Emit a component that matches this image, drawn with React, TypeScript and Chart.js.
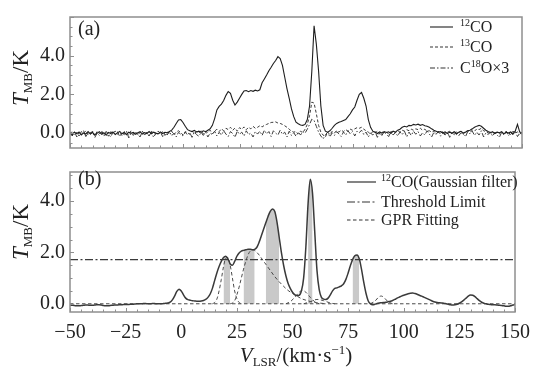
import React, { useEffect, useRef } from 'react';
import { Chart, registerables } from 'chart.js';

Chart.register(...registerables);

// ---------- DATA ----------
// Velocity grid: starts at -50 km/s, one channel per km/s, up to 150 km/s
const V_START = -50;
const V_STEP = 1;

// Panel (a): 12CO spectrum (K)
const CO12_A = [
  0.02, -0.08, 0.05, -0.03, 0.06, -0.1, 0.01, -0.05, 0.08, -0.04,
  0.03, -0.09, 0.0, 0.07, -0.06, 0.02, -0.11, 0.04, -0.02, 0.06,
  -0.07, 0.01, 0.09, -0.04, 0.03, -0.08, 0.05, -0.01, 0.04, -0.06,
  0.02, 0.07, -0.05, 0.03, -0.02, 0.08, -0.03, 0.05, 0.0, -0.04,
  0.06, -0.02, 0.04, 0.01, 0.08, 0.15, 0.3, 0.5, 0.68, 0.7,
  0.55, 0.35, 0.18, 0.12, 0.08, 0.14, 0.06, 0.1, 0.04, 0.12,
  0.07, 0.15, 0.22, 0.4, 0.75, 1.2, 1.38, 1.5, 1.68, 1.95,
  2.15, 2.05, 1.7, 1.45, 1.6, 1.8, 2.0, 2.18, 2.2, 2.14,
  2.2, 2.16, 2.22, 2.18, 2.24, 2.6, 2.8, 3.0, 3.22, 3.4,
  3.6, 3.75, 3.95, 3.85, 3.5, 2.9, 2.3, 1.8, 1.25, 0.85,
  0.56, 0.48, 0.42, 0.4, 0.45, 0.7, 1.4, 3.2, 5.55, 4.6,
  3.2, 1.4, 0.4, 0.1, 0.05, 0.12, 0.25, 0.4, 0.5, 0.56,
  0.6, 0.65, 0.7, 0.85, 1.0, 1.2, 1.35, 1.7, 2.0, 2.1,
  1.8, 1.4, 0.7, 0.3, 0.1, 0.04, -0.02, 0.06, 0.0, 0.08,
  0.03, 0.07, -0.02, 0.1, 0.05, 0.15, 0.2, 0.3, 0.35, 0.32,
  0.4, 0.38, 0.45, 0.42, 0.46, 0.4, 0.44, 0.38, 0.35, 0.3,
  0.22, 0.15, 0.1, 0.05, 0.08, 0.02, 0.06, -0.03, 0.05, 0.0,
  0.07, -0.02, 0.04, 0.09, 0.01, 0.05, 0.12, 0.15, 0.22, 0.3,
  0.36, 0.4, 0.35, 0.25, 0.15, 0.08, 0.03, 0.07, -0.02, 0.05,
  0.02, 0.08, -0.04, 0.05, 0.0, 0.06, -0.03, 0.1, 0.45, 0.05,
  0.02,
];

// Panel (a): 13CO spectrum (K)
const CO13_A = [
  -0.05, 0.1, -0.12, 0.04, -0.15, 0.08, -0.02, 0.12, -0.1, 0.03,
  0.06, -0.14, 0.09, -0.03, 0.11, -0.08, 0.02, -0.16, 0.07, 0.0,
  0.1, -0.06, 0.04, -0.13, 0.08, 0.01, -0.1, 0.12, -0.04, 0.06,
  -0.11, 0.05, 0.1, -0.07, 0.03, -0.15, 0.09, 0.02, -0.06, 0.11,
  -0.03, 0.07, -0.12, 0.05, 0.0, 0.1, -0.08, 0.06, 0.12, 0.03,
  -0.1, 0.08, 0.02, -0.06, 0.11, -0.02, 0.07, 0.0, 0.13, -0.05,
  0.09, 0.03, 0.15, -0.04, 0.1, 0.2, 0.08, 0.22, 0.12, 0.25,
  0.18, 0.3, 0.15, 0.26, 0.1, 0.28, 0.2, 0.32, 0.18, 0.3,
  0.22, 0.35, 0.25, 0.3, 0.38, 0.32, 0.4, 0.45, 0.5, 0.55,
  0.56, 0.58, 0.52, 0.5, 0.45, 0.38, 0.3, 0.2, 0.1, 0.05,
  0.08, -0.05, 0.1, 0.02, 0.2, 0.45, 0.9, 1.6, 1.55, 1.0,
  0.4, 0.05, -0.1, -0.2, 0.05, -0.08, 0.1, 0.02, 0.12, 0.05,
  0.15, 0.08, 0.18, 0.1, 0.2, 0.15, 0.22, 0.28, 0.25, 0.3,
  0.2, 0.12, 0.05, -0.05, 0.08, 0.0, 0.1, -0.04, 0.06, 0.02,
  0.08, -0.06, 0.05, 0.1, 0.02, 0.12, 0.05, 0.15, 0.1, 0.18,
  0.12, 0.2, 0.15, 0.22, 0.18, 0.25, 0.15, 0.2, 0.1, 0.12,
  0.05, 0.1, -0.04, 0.06, 0.0, 0.08, -0.06, 0.04, 0.1, -0.02,
  0.06, -0.08, 0.03, 0.1, -0.05, 0.07, 0.12, 0.05, 0.15, 0.1,
  0.22, 0.18, 0.25, 0.12, 0.08, 0.02, -0.06, 0.08, 0.0, 0.05,
  -0.04, 0.09, -0.1, 0.05, 0.02, -0.07, 0.1, 0.0, 0.06, -0.05,
  0.03,
];

// Panel (a): C18O x3 spectrum (K)
const C18O_A = [
  0.0, -0.15, 0.08, -0.2, 0.05, -0.1, 0.12, -0.18, 0.02, -0.08,
  0.1, -0.22, 0.0, -0.12, 0.06, -0.16, 0.09, -0.05, -0.2, 0.04,
  -0.1, 0.07, -0.18, 0.02, -0.08, 0.1, -0.25, 0.0, -0.12, 0.05,
  -0.06, -0.2, 0.08, -0.1, 0.03, -0.15, 0.06, -0.22, 0.0, -0.08,
  0.05, -0.18, 0.02, -0.1, 0.08, -0.14, 0.0, -0.2, 0.04, -0.06,
  -0.15, 0.05, -0.1, 0.02, -0.22, 0.06, -0.08, -0.16, 0.03, -0.12,
  0.06, -0.2, 0.0, -0.08, 0.1, -0.15, 0.04, -0.1, 0.12, -0.05,
  -0.18, 0.08, -0.02, -0.22, 0.1, -0.06, 0.05, -0.15, 0.12, -0.08,
  0.0, -0.2, 0.08, -0.05, 0.1, -0.12, 0.15, -0.04, 0.08, -0.18,
  0.12, 0.0, -0.1, 0.15, -0.06, 0.05, -0.2, 0.1, -0.12, 0.02,
  -0.16, 0.05, -0.1, 0.08, 0.0, 0.2, 0.45, 0.72, 0.65, 0.35,
  0.05, -0.15, -0.3, -0.1, 0.05, -0.2, 0.02, -0.12, 0.08, -0.05,
  -0.18, 0.06, -0.1, 0.12, -0.04, 0.08, -0.15, 0.1, 0.02, 0.15,
  -0.08, 0.05, -0.2, 0.0, -0.1, 0.08, -0.22, 0.02, -0.12, 0.06,
  -0.05, -0.18, 0.08, -0.1, 0.04, -0.15, 0.06, -0.08, 0.1, -0.2,
  0.05, -0.12, 0.1, -0.06, 0.08, -0.15, 0.02, -0.1, 0.12, -0.05,
  -0.2, 0.04, -0.08, 0.1, -0.16, 0.0, -0.1, 0.06, -0.22, 0.03,
  -0.08, 0.1, -0.14, 0.02, -0.06, -0.18, 0.08, -0.04, 0.1, -0.12,
  0.05, -0.1, 0.12, -0.2, 0.0, -0.08, 0.06, -0.16, 0.04, -0.1,
  -0.22, 0.05, -0.06, 0.1, -0.14, 0.02, -0.08, 0.08, -0.18, 0.0,
  -0.05,
];

// Panel (b): 12CO after Gaussian filter (K)
const CO12_SMOOTH = [
  -0.05, -0.06, -0.07, -0.08, -0.08, -0.07, -0.06, -0.05, -0.05, -0.06,
  -0.06, -0.05, -0.04, -0.04, -0.05, -0.07, -0.08, -0.08, -0.07, -0.06,
  -0.05, -0.05, -0.04, -0.04, -0.03, -0.03, -0.03, -0.02, -0.02, -0.01,
  0.0, 0.0, 0.0, 0.01, 0.01, 0.0, 0.0, 0.01, 0.01, 0.0,
  0.0, 0.0, 0.01, 0.02, 0.03, 0.06, 0.15, 0.3, 0.48, 0.57,
  0.5, 0.35, 0.22, 0.16, 0.14, 0.12, 0.11, 0.1, 0.1, 0.11,
  0.13, 0.17, 0.25, 0.38, 0.6, 0.9, 1.2, 1.45, 1.65, 1.8,
  1.85, 1.75, 1.55, 1.5, 1.65, 1.85, 1.98, 2.05, 2.08, 2.1,
  2.12, 2.12, 2.1, 2.12, 2.2, 2.4, 2.65, 2.9, 3.15, 3.4,
  3.6, 3.69, 3.6, 3.2, 2.6, 2.0, 1.5, 1.1, 0.8, 0.6,
  0.45, 0.36, 0.32, 0.33, 0.5, 1.0, 2.2, 3.9, 4.85, 4.3,
  2.8, 1.3, 0.55, 0.25, 0.18, 0.17, 0.22, 0.35, 0.5, 0.6,
  0.62, 0.66, 0.7, 0.78, 0.95, 1.2, 1.48, 1.72, 1.87, 1.9,
  1.75, 1.35, 0.85, 0.42, 0.12, 0.0, -0.04, -0.02, 0.01, 0.03,
  0.04, 0.05, 0.06, 0.08, 0.1, 0.13, 0.17, 0.22, 0.26, 0.3,
  0.33, 0.36, 0.39, 0.41, 0.42, 0.4, 0.37, 0.33, 0.3, 0.26,
  0.22, 0.18, 0.14, 0.1, 0.07, 0.05, 0.04, 0.03, 0.02, 0.0,
  -0.02, -0.04, -0.05, -0.04, -0.02, 0.02, 0.07, 0.14, 0.22, 0.3,
  0.34, 0.33, 0.28, 0.2, 0.12, 0.06, 0.02, 0.0, -0.02, -0.03,
  -0.04, -0.04, -0.05, -0.06, -0.07, -0.08, -0.1, -0.1, -0.08, -0.05,
  -0.03,
];

// Panel (b): GPR fitting components (velocity, K)
const GPR_BASE_V = [-50, 150];
const GPR_BASE_T = [0, 0];
const GPR_1_V = [14, 15, 16, 17, 18, 19, 20, 21, 22, 23, 24, 25, 26, 27];
const GPR_1_T = [0, 0.05, 0.18, 0.5, 0.95, 1.45, 1.78, 1.8, 1.5, 1.0, 0.5, 0.2, 0.05, 0];
const GPR_2_V = [22, 23, 24, 25, 26, 27, 28, 29, 30, 31, 32, 33, 34, 35, 36, 37, 38, 40, 42, 44, 46, 48, 50, 52, 54, 56, 58, 60, 62, 65];
const GPR_2_T = [0, 0.03, 0.12, 0.35, 0.65, 1.0, 1.35, 1.65, 1.9, 2.05, 2.1, 2.08, 2.0, 1.9, 1.78, 1.66, 1.54, 1.3, 1.06, 0.86, 0.68, 0.52, 0.4, 0.3, 0.2, 0.14, 0.09, 0.05, 0.03, 0];
const GPR_3_V = [47, 49, 51, 53, 54.5, 56, 58, 60, 62];
const GPR_3_T = [0, 0.08, 0.25, 0.45, 0.52, 0.45, 0.25, 0.08, 0];
const GPR_4_V = [55, 58, 61, 64, 67, 69];
const GPR_4_T = [0, 0.08, 0.17, 0.12, 0.03, 0];
const GPR_5_V = [85, 87, 89, 90, 91, 93, 95];
const GPR_5_T = [0, 0.1, 0.28, 0.3, 0.25, 0.08, 0];

const THRESHOLD = 1.72;
// shaded velocity intervals [from, to] (km/s)
const BANDS = [[19, 22], [28, 33], [38, 44], [57, 59], [77, 80]];

// axis ticks
const X_TICKS = [-50, -25, 0, 25, 50, 75, 100, 125, 150];
const Y_TICKS = [0, 2, 4];

// ---------- HELPERS ----------
const SERIF = '"Liberation Serif", "Times New Roman", serif';
const VEL = CO12_A.map((_, i) => V_START + i * V_STEP);
const pts = (vs: number[], ts: number[]) => ts.map((t, i) => ({ x: vs[i], y: t }));

type Seg = { t: string; size: number; dy?: number; italic?: boolean };
function fontOf(s: Seg) {
  return `${s.italic ? 'italic ' : ''}${s.size}px ${SERIF}`;
}
function drawRich(ctx: CanvasRenderingContext2D, x: number, y: number, segs: Seg[], align: 'left' | 'center') {
  let total = 0;
  for (const s of segs) { ctx.font = fontOf(s); total += ctx.measureText(s.t).width; }
  let cx = align === 'center' ? x - total / 2 : x;
  ctx.textBaseline = 'alphabetic';
  ctx.textAlign = 'left';
  for (const s of segs) {
    ctx.font = fontOf(s);
    ctx.fillText(s.t, cx, y + (s.dy || 0));
    cx += ctx.measureText(s.t).width;
  }
}

const TEXT = '#222';
const FRAME = '#8f8f8f';

function framePlugin(id: string, yMin: number, yMax: number, extra: (c: Chart) => void) {
  return {
    id,
    afterDraw(chart: any) {
      const { ctx, chartArea: a, scales } = chart;
      const xs = scales.x, ys = scales.y;
      ctx.save();
      ctx.strokeStyle = FRAME;
      ctx.lineWidth = 1;
      ctx.beginPath();
      for (let v = -50; v <= 150; v += 5) {
        const px = Math.round(xs.getPixelForValue(v)) + 0.5;
        const len = v % 25 === 0 ? 4 : 2.5;
        ctx.moveTo(px, a.bottom);
        ctx.lineTo(px, a.bottom - len);
      }
      for (let v = Math.ceil(yMin * 2) / 2; v <= yMax; v += 0.5) {
        const py = Math.round(ys.getPixelForValue(v)) + 0.5;
        const len = Math.abs(v % 2) < 1e-6 ? 4 : 2.5;
        ctx.moveTo(a.left, py);
        ctx.lineTo(a.left + len, py);
      }
      ctx.stroke();
      ctx.lineWidth = 1.5;
      ctx.strokeRect(a.left, a.top, a.right - a.left, a.bottom - a.top);
      ctx.restore();
      ctx.save();
      ctx.fillStyle = TEXT;
      ctx.strokeStyle = '#333';
      extra(chart);
      ctx.restore();
    },
  };
}

function yTitle(ctx: CanvasRenderingContext2D, cx: number, cy: number) {
  ctx.save();
  ctx.translate(cx, cy);
  ctx.rotate(-Math.PI / 2);
  drawRich(ctx, 0, 8, [
    { t: 'T', size: 23, italic: true },
    { t: 'MB', size: 13, dy: 4 },
    { t: '/K', size: 23 },
  ], 'center');
  ctx.restore();
}

function legendRow(ctx: CanvasRenderingContext2D, x0: number, x1: number, y: number, dash: number[], tx: number, segs: Seg[]) {
  ctx.save();
  ctx.strokeStyle = '#333';
  ctx.lineWidth = 1.2;
  ctx.setLineDash(dash);
  ctx.beginPath();
  ctx.moveTo(x0, y);
  ctx.lineTo(x1, y);
  ctx.stroke();
  ctx.restore();
  drawRich(ctx, tx, y + 5, segs, 'left');
}

const A_MIN = -0.77, A_MAX = 6.0;
const B_MIN = -0.32, B_MAX = 5.13;

const yScale = (min: number, max: number) => ({
  type: 'linear' as const,
  min,
  max,
  afterFit: (s: any) => { s.width = 70; },
  afterBuildTicks: (s: any) => { s.ticks = Y_TICKS.map((v) => ({ value: v })); },
  grid: { display: false, drawTicks: false },
  border: { display: false },
  ticks: {
    padding: 5,
    color: TEXT,
    font: { family: SERIF, size: 20 },
    callback: (v: any) => Number(v).toFixed(1),
  },
});

const DASH_13 = [3, 2];
const DASH_18 = [5, 2, 1.5, 2];
const DASH_TH = [8, 2.5, 2, 2.5];
const DASH_GPR = [3.5, 2.5];

export default function App() {
  const aRef = useRef<HTMLCanvasElement>(null);
  const bRef = useRef<HTMLCanvasElement>(null);

  useEffect(() => {
    const lineDs = (data: any, color: string, width: number, dash: number[] = []) => ({
      data,
      borderColor: color,
      borderWidth: width,
      borderDash: dash,
      pointRadius: 0,
      fill: false,
      tension: 0,
    });

    const chartA = new Chart(aRef.current!, {
      type: 'line',
      data: {
        datasets: [
          lineDs(pts(VEL, CO12_A), '#1e1e1e', 1.1),
          lineDs(pts(VEL, CO13_A), '#3a3a3a', 1, DASH_13),
          lineDs(pts(VEL, C18O_A), '#3a3a3a', 1, DASH_18),
        ],
      },
      options: {
        responsive: false,
        animation: false,
        events: [],
        layout: { padding: { top: 8, bottom: 5, right: 17, left: 0 } },
        plugins: { legend: { display: false }, tooltip: { enabled: false } },
        scales: {
          x: { type: 'linear', min: -50, max: 150, display: false },
          y: yScale(A_MIN, A_MAX),
        },
      },
      plugins: [
        framePlugin('frameA', A_MIN, A_MAX, (c: any) => {
          const ctx = c.ctx as CanvasRenderingContext2D;
          drawRich(ctx, 78, 35, [{ t: '(a)', size: 20 }], 'left');
          yTitle(ctx, 20, 78);
          legendRow(ctx, 430, 453, 27, [], 460, [{ t: '12', size: 10, dy: -6 }, { t: 'CO', size: 16 }]);
          legendRow(ctx, 430, 453, 47, DASH_13, 460, [{ t: '13', size: 10, dy: -6 }, { t: 'CO', size: 16 }]);
          legendRow(ctx, 430, 453, 68, DASH_18, 460, [{ t: 'C', size: 16 }, { t: '18', size: 10, dy: -6 }, { t: 'O×3', size: 16 }]);
        }),
      ],
    } as any);

    const bandSets = BANDS.map(([from, to]) => ({
      data: pts(VEL, CO12_SMOOTH).filter((p) => p.x >= from && p.x <= to),
      borderWidth: 0,
      borderColor: 'rgba(0,0,0,0)',
      backgroundColor: '#c9c9c9',
      pointRadius: 0,
      fill: 'origin',
      cubicInterpolationMode: 'monotone',
    }));

    const gprDs = (vs: number[], ts: number[]) => ({
      ...lineDs(pts(vs, ts), '#4a4a4a', 1, DASH_GPR),
      cubicInterpolationMode: 'monotone',
    });

    const chartB = new Chart(bRef.current!, {
      type: 'line',
      data: {
        datasets: [
          { ...lineDs(pts(VEL, CO12_SMOOTH), '#3a3a3a', 1.5), cubicInterpolationMode: 'monotone' },
          lineDs([{ x: -50, y: THRESHOLD }, { x: 150, y: THRESHOLD }], '#3a3a3a', 1.2, DASH_TH),
          gprDs(GPR_BASE_V, GPR_BASE_T),
          gprDs(GPR_1_V, GPR_1_T),
          gprDs(GPR_2_V, GPR_2_T),
          gprDs(GPR_3_V, GPR_3_T),
          gprDs(GPR_4_V, GPR_4_T),
          gprDs(GPR_5_V, GPR_5_T),
          ...bandSets,
        ],
      },
      options: {
        responsive: false,
        animation: false,
        events: [],
        layout: { padding: { top: 5, bottom: 0, right: 17, left: 0 } },
        plugins: { legend: { display: false }, tooltip: { enabled: false } },
        scales: {
          x: {
            type: 'linear',
            min: -50,
            max: 150,
            afterFit: (s: any) => { s.height = 58; },
            afterBuildTicks: (s: any) => { s.ticks = X_TICKS.map((v) => ({ value: v })); },
            grid: { display: false, drawTicks: false },
            border: { display: false },
            ticks: {
              padding: 9,
              color: TEXT,
              maxRotation: 0,
              font: { family: SERIF, size: 20 },
              callback: (v: any) => (v < 0 ? '\u2212' + Math.abs(v) : String(v)),
            },
          },
          y: yScale(B_MIN, B_MAX),
        },
      },
      plugins: [
        framePlugin('frameB', B_MIN, B_MAX, (c: any) => {
          const ctx = c.ctx as CanvasRenderingContext2D;
          drawRich(ctx, 78, 30, [{ t: '(b)', size: 20 }], 'left');
          yTitle(ctx, 20, 77);
          legendRow(ctx, 347, 376, 27, [], 381, [{ t: '12', size: 10, dy: -6 }, { t: 'CO(Gaussian filter)', size: 16 }]);
          legendRow(ctx, 347, 376, 47, DASH_TH, 381, [{ t: 'Threshold Limit', size: 16 }]);
          legendRow(ctx, 347, 376, 65, DASH_GPR, 381, [{ t: 'GPR Fitting', size: 16 }]);
          drawRich(ctx, 296, 207, [
            { t: 'V', size: 21, italic: true },
            { t: 'LSR', size: 13, dy: 4 },
            { t: '/(km·s', size: 21 },
            { t: '\u22121', size: 13, dy: -8 },
            { t: ')', size: 21 },
          ], 'center');
        }),
      ],
    } as any);

    return () => {
      chartA.destroy();
      chartB.destroy();
    };
  }, []);

  return (
    <div style={{ position: 'fixed', left: 0, top: 0, width: 539, height: 370, background: '#fff' }}>
      <canvas ref={aRef} width={539} height={165} style={{ position: 'absolute', left: 0, top: 0, width: 539, height: 165 }} />
      <canvas ref={bRef} width={539} height={215} style={{ position: 'absolute', left: 0, top: 155, width: 539, height: 215 }} />
    </div>
  );
}
